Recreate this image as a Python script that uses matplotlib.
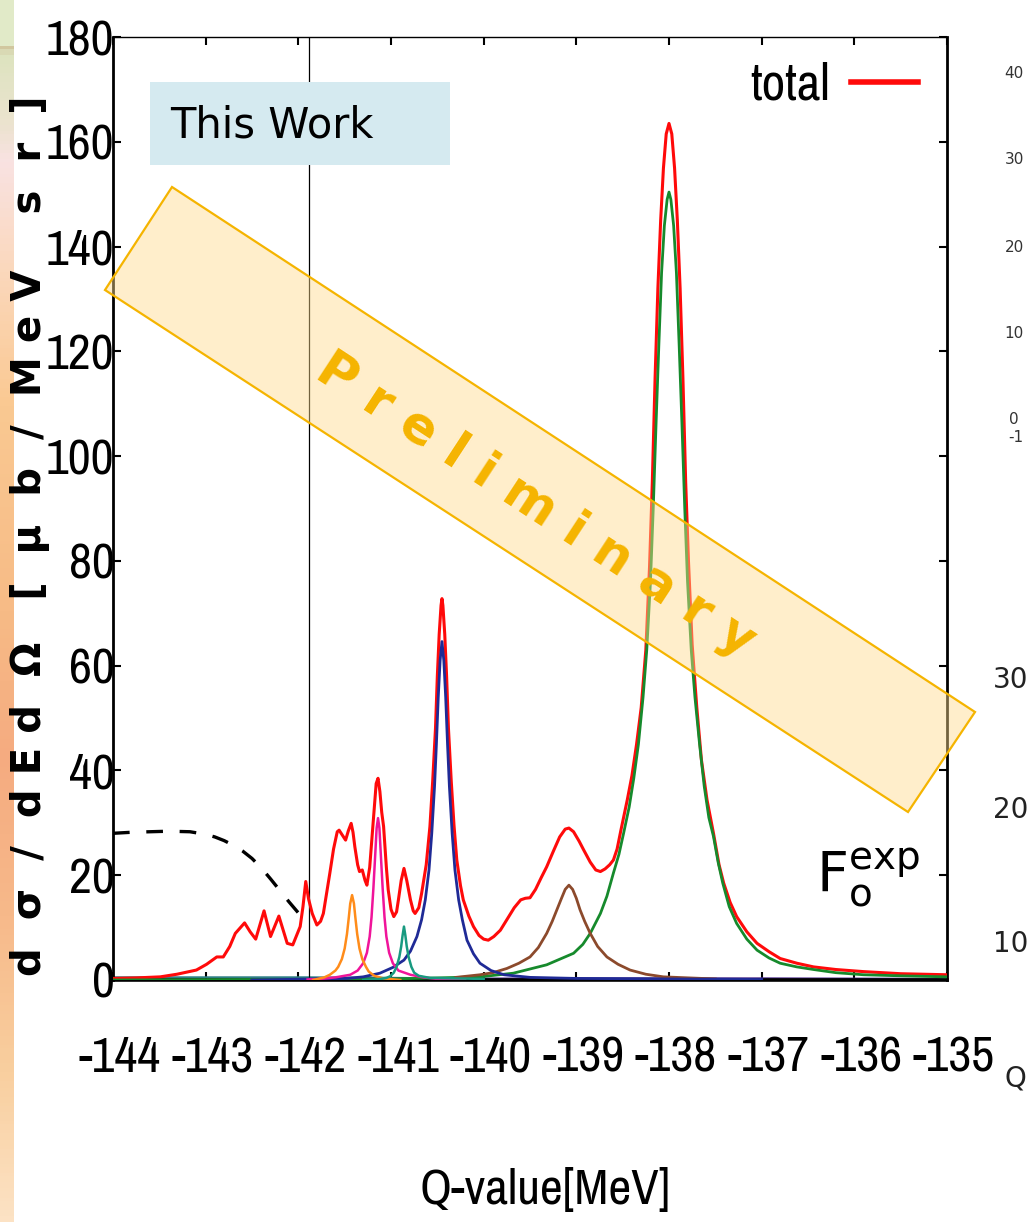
import numpy as np
import matplotlib
matplotlib.use("Agg")
import matplotlib.pyplot as plt
from matplotlib import font_manager as fm
from matplotlib.colors import LinearSegmentedColormap
from matplotlib.patches import Polygon, Rectangle
from matplotlib.transforms import ScaledTranslation

plt.rcParams['axes.unicode_minus'] = False

# look for a narrow/condensed face for the gnuplot style numbers
narrow_file = None
for f in sorted(fm.fontManager.ttflist, key=lambda e: e.name):
    tag = (f.name + ' ' + str(f.stretch)).lower()
    if ('narrow' in tag or 'condensed' in tag) and f.weight in (400, 'normal', 'regular') \
            and f.style == 'normal' and 'semi' not in tag:
        narrow_file = f.fname
        break
if narrow_file:
    def nfont(size):
        return fm.FontProperties(fname=narrow_file, size=size)
    num_size, lab_size = 36, 36
else:
    def nfont(size):
        return fm.FontProperties(family='Liberation Sans', size=size)
    num_size, lab_size = 30, 33

# ---- data (Q in MeV, cross section in mub/MeV sr) ----
red_q = [-144.00, -143.75, -143.49, -143.31, -143.10, -142.99, -142.88, -142.81, -142.74, -142.68,
         -142.65, -142.58, -142.52, -142.46, -142.37, -142.30, -142.21, -142.12, -142.06, -141.98,
         -141.95, -141.92, -141.89, -141.85, -141.80, -141.76, -141.73, -141.70, -141.66, -141.62,
         -141.58, -141.56, -141.52, -141.49, -141.46, -141.43, -141.41, -141.39, -141.36, -141.34,
         -141.31, -141.28, -141.26, -141.23, -141.21, -141.18, -141.16, -141.14, -141.12, -141.10,
         -141.08, -141.05, -141.03, -141.00, -140.97, -140.94, -140.92, -140.89, -140.86, -140.83,
         -140.79, -140.76, -140.74, -140.70, -140.67, -140.62, -140.58, -140.55, -140.52, -140.50,
         -140.48, -140.46, -140.45, -140.44, -140.42, -140.40, -140.38, -140.35, -140.32, -140.29,
         -140.25, -140.22, -140.16, -140.11, -140.05, -140.00, -139.95, -139.89, -139.82, -139.75,
         -139.67, -139.60, -139.55, -139.50, -139.44, -139.38, -139.32, -139.25, -139.18, -139.12,
         -139.08, -139.03, -138.97, -138.92, -138.85, -138.79, -138.74, -138.69, -138.64, -138.60,
         -138.56, -138.52, -138.45, -138.40, -138.35, -138.30, -138.25, -138.21, -138.18, -138.15,
         -138.12, -138.09, -138.06, -138.03, -138.00, -137.97, -137.94, -137.91, -137.88, -137.85,
         -137.82, -137.79, -137.75, -137.70, -137.65, -137.59, -137.52, -137.46, -137.41, -137.34,
         -137.27, -137.16, -137.05, -136.92, -136.80, -136.62, -136.44, -136.20, -135.90, -135.50,
         -135.00]
red_v = [0.3, 0.4, 0.6, 1.1, 1.9, 3.0, 4.4, 4.4, 6.4, 8.9,
         9.5, 10.9, 9.2, 7.8, 13.2, 8.3, 12.2, 7.0, 6.7, 10.2,
         14.0, 18.8, 15.5, 12.7, 10.5, 11.2, 12.7, 16.0, 20.4, 25.0,
         28.3, 28.6, 27.5, 26.7, 28.5, 29.9, 28.2, 25.4, 22.0, 20.7,
         21.0, 19.0, 18.1, 21.5, 26.1, 33.0, 37.5, 38.5, 36.0, 32.0,
         29.3, 21.5, 17.2, 13.5, 12.1, 13.0, 15.3, 19.0, 21.3, 19.0,
         15.3, 13.2, 12.7, 13.8, 16.5, 22.0, 29.3, 38.0, 48.0, 58.0,
         66.0, 71.5, 72.8, 71.5, 66.0, 58.0, 48.0, 38.0, 29.5, 22.9,
         18.0, 15.3, 12.2, 10.2, 8.5, 7.8, 7.6, 8.3, 9.5, 11.5,
         13.8, 15.3, 15.6, 15.7, 17.3, 19.5, 21.6, 24.5, 27.3, 28.8,
         29.0, 28.3, 26.5, 24.8, 22.5, 21.0, 20.7, 21.2, 22.0, 22.9,
         25.0, 28.5, 34.4, 39.0, 45.0, 52.0, 63.0, 78.9, 95.0, 115.0,
         132.0, 145.0, 155.0, 161.5, 163.5, 161.5, 155.0, 145.0, 132.0, 115.0,
         95.0, 80.0, 64.0, 52.0, 42.0, 34.4, 28.0, 22.0, 18.5, 14.8,
         12.1, 9.2, 7.0, 5.4, 4.1, 3.2, 2.5, 2.0, 1.6, 1.2,
         1.0]

green_q = [-144.00, -141.00, -140.50, -140.04, -139.68, -139.32, -139.03, -138.93, -138.85, -138.74,
           -138.67, -138.60, -138.54, -138.49, -138.43, -138.38, -138.33, -138.28, -138.24, -138.20,
           -138.17, -138.14, -138.11, -138.08, -138.05, -138.02, -138.00, -137.98, -137.95, -137.92,
           -137.89, -137.86, -137.83, -137.80, -137.76, -137.72, -137.67, -137.62, -137.57, -137.52,
           -137.47, -137.42, -137.35, -137.27, -137.16, -137.05, -136.92, -136.80, -136.62, -136.44,
           -136.20, -135.90, -135.50, -135.00]
green_v = [0.0, 0.2, 0.4, 0.6, 1.3, 2.9, 5.1, 6.8, 8.9, 12.7,
           16.0, 20.4, 24.0, 28.0, 33.0, 38.5, 45.0, 54.0, 63.0, 76.0,
           90.0, 106.0, 121.0, 135.0, 144.0, 149.0, 150.4, 149.0, 144.0, 135.0,
           121.0, 106.0, 90.0, 76.0, 63.0, 54.0, 45.0, 37.0, 31.0, 27.4,
           22.5, 18.5, 14.0, 10.8, 7.8, 5.7, 4.2, 3.2, 2.5, 2.0,
           1.4, 1.0, 0.8, 0.6]

brown_q = [-140.30, -140.04, -139.90, -139.75, -139.62, -139.50, -139.41, -139.32, -139.26, -139.21,
           -139.16, -139.12, -139.08, -139.04, -139.00, -138.96, -138.91, -138.85, -138.77, -138.67,
           -138.55, -138.42, -138.25, -138.06, -137.50]
brown_v = [0.5, 1.0, 1.4, 2.2, 3.2, 4.4, 6.2, 8.9, 11.2, 13.4,
           15.6, 17.3, 18.1, 17.3, 15.6, 13.4, 11.2, 8.9, 6.4, 4.4,
           3.0, 1.9, 1.1, 0.6, 0.2]

blue_q = [-142.50, -141.48, -141.30, -141.12, -140.98, -140.86, -140.79, -140.72, -140.67, -140.63,
          -140.59, -140.56, -140.53, -140.51, -140.49, -140.47, -140.45, -140.43, -140.41, -140.39,
          -140.37, -140.34, -140.31, -140.27, -140.23, -140.18, -140.11, -140.04, -139.92, -139.78,
          -139.50, -139.00, -137.00]
blue_v = [0.0, 0.3, 0.6, 1.3, 2.4, 3.8, 5.5, 8.3, 11.5, 15.3,
          21.0, 28.0, 37.0, 45.0, 54.0, 61.0, 64.6, 61.0, 54.0, 45.0,
          37.0, 28.0, 21.0, 15.3, 11.5, 7.6, 5.0, 3.2, 1.8, 1.0,
          0.5, 0.3, 0.1]

magenta_q = [-141.90, -141.76, -141.60, -141.44, -141.36, -141.30, -141.26, -141.23, -141.21, -141.19,
             -141.17, -141.155, -141.14, -141.125, -141.11, -141.09, -141.07, -141.05, -141.02, -140.98,
             -140.92, -140.79, -140.65, -140.50, -140.20]
magenta_v = [0.1, 0.2, 0.5, 1.0, 1.8, 3.2, 5.2, 8.3, 12.0, 17.5,
             24.0, 29.0, 30.9, 29.0, 24.0, 17.5, 12.0, 8.3, 5.2, 3.2,
             1.8, 1.0, 0.5, 0.2, 0.0]

orange_q = [-141.84, -141.72, -141.66, -141.60, -141.57, -141.53, -141.50, -141.475, -141.455, -141.44,
            -141.42, -141.40, -141.385, -141.365, -141.34, -141.31, -141.27, -141.24, -141.18, -141.08,
            -140.90]
orange_v = [0.0, 0.5, 1.0, 1.8, 2.5, 4.0, 6.0, 8.8, 12.0, 14.6,
            16.2, 14.6, 12.0, 8.8, 6.0, 4.0, 2.5, 1.6, 0.8, 0.3,
            0.0]

teal_q = [-141.30, -141.12, -141.05, -141.01, -140.97, -140.94, -140.91, -140.89, -140.875, -140.86,
          -140.845, -140.83, -140.81, -140.78, -140.75, -140.70, -140.58, -140.00]
teal_v = [0.0, 0.2, 0.4, 0.7, 1.4, 2.5, 4.4, 6.4, 8.5, 10.2,
          8.5, 6.4, 4.4, 2.5, 1.4, 0.8, 0.4, 0.2]

# flat components hugging the baseline
base_q = [-144.0, -141.9, -141.0, -140.0]
base_v = [0.5, 0.5, 0.4, 0.2]
purple_q = [-141.5, -139.0, -137.0, -135.0]
purple_v = [0.2, 0.3, 0.3, 0.2]

dash_q = [-144.00, -143.80, -143.60, -143.40, -143.17, -143.00, -142.90, -142.80, -142.70, -142.60,
          -142.50, -142.40, -142.30, -142.20, -142.10, -141.98]
dash_v = [28.0, 28.2, 28.3, 28.4, 28.3, 27.8, 27.3, 26.6, 25.7, 24.6,
          23.2, 21.4, 19.3, 17.1, 14.9, 12.4]

threshold_q = -141.88

xticks = [-144, -143, -142, -141, -140, -139, -138, -137, -136, -135]
yticks = [0, 20, 40, 60, 80, 100, 120, 140, 160, 180]

# neighbouring chart, at the right edge of the slide
side_small = ['40', '30', '20', '10', '0']
side_big = ['30', '20', '10']

W, H = 1031, 1222
fig = plt.figure(figsize=(W / 100, H / 100), dpi=100)

# slide decoration: gradient strip on the left
strip = fig.add_axes([0, 0, 14 / W, 1])
cmap = LinearSegmentedColormap.from_list('strip', [
    (0.0, '#e1eac8'), (0.034, '#e1eac8'), (0.036, '#c9b48a'), (0.04, '#dde3bf'),
    (0.10, '#ece3cf'), (0.13, '#f9e2e2'), (0.22, '#fbd8bc'), (0.33, '#fac992'),
    (0.50, '#f7bb86'), (0.62, '#f5ab80'), (0.75, '#f7b98a'), (0.88, '#f9cf9f'),
    (1.0, '#fce2c4')])
strip.imshow(np.linspace(0, 1, 400).reshape(-1, 1), cmap=cmap, aspect='auto', extent=[0, 1, 0, 1])
strip.axis('off')

ax = fig.add_axes([113 / W, 1 - 980 / H, 834 / W, 943 / H])

ax.plot(red_q, red_v, color='#ff0a0a', lw=2.2, label='total', zorder=3)
ax.plot(base_q, base_v, color='#2f7f86', lw=1.6, zorder=2)
ax.plot(purple_q, purple_v, color='#4b2a8a', lw=1.6, zorder=2)
ax.plot(green_q, green_v, color='#168a2c', lw=2.0, zorder=4)
ax.plot(brown_q, brown_v, color='#8c4a2c', lw=2.0, zorder=4)
ax.plot(blue_q, blue_v, color='#1f2a96', lw=2.0, zorder=4)
ax.plot(magenta_q, magenta_v, color='#f0149a', lw=1.8, zorder=4)
ax.plot(orange_q, orange_v, color='#ff8c1a', lw=1.8, zorder=4)
ax.plot(teal_q, teal_v, color='#189a80', lw=1.8, zorder=4)
ax.plot(dash_q, dash_v, color='black', lw=2.4, ls=(0, (5, 5)), zorder=4)
ax.axvline(threshold_q, color='black', lw=0.9, zorder=2)

ax.set_xlim(-144, -135)
ax.set_ylim(0, 180)
ax.set_xticks(xticks)
ax.set_yticks(yticks)
ax.set_xticklabels([str(t) for t in xticks])
ax.set_yticklabels([str(t) for t in yticks])
ax.tick_params(direction='in', length=6, width=1.5, top=True, right=True)
ax.tick_params(axis='y', pad=-1)
ax.tick_params(axis='x', pad=40)
for lab in ax.get_xticklabels() + ax.get_yticklabels():
    lab.set_fontproperties(nfont(num_size))
for lab in ax.get_xticklabels():
    lab.set_transform(lab.get_transform() + ScaledTranslation(0.07, 0, fig.dpi_scale_trans))
for side, w in [('left', 2.0), ('bottom', 2.6), ('right', 2.0), ('top', 1.0)]:
    ax.spines[side].set_linewidth(w)

ax.set_xlabel('Q-value[MeV]', fontproperties=nfont(lab_size), va='center')
ax.xaxis.set_label_coords(0.518, -0.223)
ax.set_ylabel('d  σ  /  d E d  Ω   [  μ  b  /  M e V    s  r  ]', fontsize=29, fontweight='bold',
              va='center', ha='center')
ax.yaxis.set_label_coords(-0.0995, 0.471)

ax.legend(loc='center right', bbox_to_anchor=(0.965, 0.949), frameon=False, markerfirst=False,
          handlelength=1.3, handletextpad=0.4, borderpad=0, borderaxespad=0,
          prop=nfont(37))
ax.get_legend().get_lines()[0].set_linewidth(4)

ax.text(0.967, 0.075, r'$\mathsf{F_o^{exp}}$', transform=ax.transAxes, fontsize=40,
        ha='right', va='bottom')

# "This Work" tag
fig.patches.append(Rectangle((150 / W, 1 - 165 / H), 300 / W, 83 / H, transform=fig.transFigure,
                             facecolor='#d5eaf0', edgecolor='none', zorder=5))
fig.text(170 / W, 1 - 126 / H, 'This Work', fontsize=30, ha='left', va='center', zorder=6)

# "Preliminary" stamp across the plot
corners = [(172, 187), (975, 712), (908, 812), (105, 290)]
fig.patches.append(Polygon([(x / W, 1 - y / H) for x, y in corners], closed=True,
                           transform=fig.transFigure, facecolor=(1.0, 0.86, 0.55, 0.45),
                           edgecolor='#f5b400', lw=1.6, zorder=7))
fig.text(536 / W, 1 - 506 / H, 'P r e l i m i n a r y', fontsize=37, fontweight='bold',
         color='#f5b400', rotation=-33.2, rotation_mode='anchor', ha='center', va='center', zorder=8)

# bits of the next chart on the slide
for lab, py in zip(side_small, [74, 160, 247, 333, 420]):
    fig.text(1014 / W, 1 - py / H, lab, fontsize=11, color='#333333', ha='center', va='center')
fig.text(1016 / W, 1 - 437 / H, '-1', fontsize=11, color='#333333', ha='center', va='center')
for lab, py in zip(side_big, [680, 810, 944]):
    fig.text(1028 / W, 1 - py / H, lab, fontsize=20, color='#222222', ha='right', va='center')
fig.text(1004 / W, 1 - 1078 / H, 'Q', fontsize=20, color='#222222', ha='left', va='center')

fig.savefig('out.png', dpi=100)
